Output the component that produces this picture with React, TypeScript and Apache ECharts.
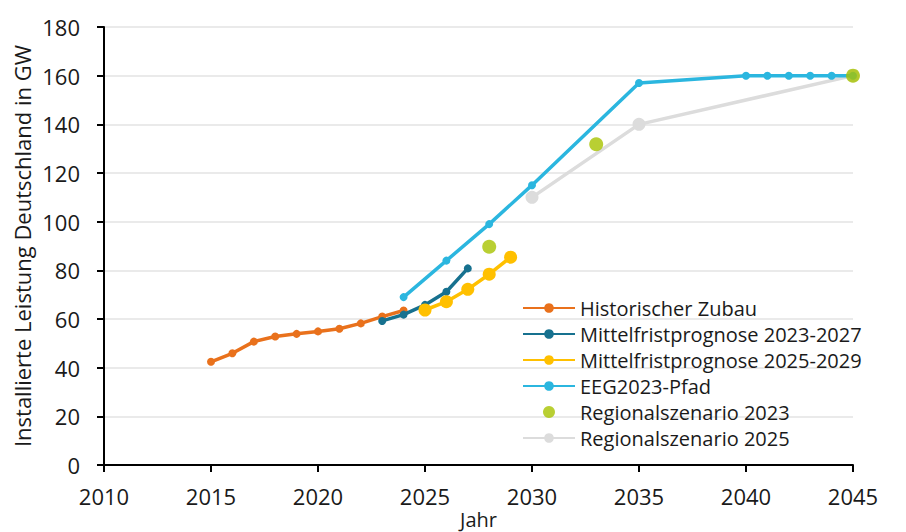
import React, { useEffect, useRef } from "react";
import * as echarts from "echarts";

const historischYears = [2015, 2016, 2017, 2018, 2019, 2020, 2021, 2022, 2023, 2024];
const historischValues = [42.4, 45.9, 50.7, 52.8, 53.9, 54.9, 56.0, 58.2, 61.0, 63.5];

const mf2327Years = [2023, 2024, 2025, 2026, 2027];
const mf2327Values = [59.2, 61.8, 65.8, 71.2, 80.8];

const mf2529Years = [2025, 2026, 2027, 2028, 2029];
const mf2529Values = [63.7, 67.1, 72.2, 78.4, 85.4];

const eegYears = [2024, 2026, 2028, 2030, 2035, 2040, 2041, 2042, 2043, 2044, 2045];
const eegValues = [69, 84, 99, 115, 157, 160, 160, 160, 160, 160, 160];

const reg2023Years = [2028, 2033, 2045];
const reg2023Values = [89.7, 131.8, 160];

const reg2025Years = [2030, 2035, 2045];
const reg2025Values = [110, 140, 160];

const seriesNames = [
  "Historischer Zubau",
  "Mittelfristprognose 2023-2027",
  "Mittelfristprognose 2025-2029",
  "EEG2023-Pfad",
  "Regionalszenario 2023",
  "Regionalszenario 2025",
];

const zip = (xs: number[], ys: number[]) => xs.map((x, i) => [x, ys[i]]);

const FONT = "'Open Sans', sans-serif";
const TEXT = "#1a1a1a";

export default function App() {
  const ref = useRef<HTMLDivElement>(null);
  useEffect(() => {
    if (!ref.current) return;
    const chart = echarts.init(ref.current, undefined, { renderer: "svg" });
    chart.setOption({
      animation: false,
      backgroundColor: "#ffffff",
      textStyle: { fontFamily: FONT },
      grid: { left: 104, right: 53, top: 27, bottom: 67, containLabel: false, outerBoundsMode: "none" },
      legend: {
        orient: "vertical",
        left: 522,
        top: 298,
        padding: 0,
        itemWidth: 52,
        itemHeight: 12,
        itemGap: 6,
        data: seriesNames,
        textStyle: { fontFamily: FONT, fontSize: 20, color: TEXT, lineHeight: 20 },
      },
      xAxis: {
        type: "value",
        min: 2010,
        max: 2045,
        interval: 5,
        name: "Jahr",
        nameLocation: "middle",
        nameGap: 43,
        nameMoveOverlap: false,
        nameTextStyle: { fontFamily: FONT, fontSize: 20, color: TEXT, lineHeight: 22 },
        axisLine: { show: true, lineStyle: { color: "#000", width: 2 } },
        axisTick: { show: true, inside: false, length: 7, lineStyle: { color: "#000", width: 2 } },
        axisLabel: { fontFamily: FONT, fontSize: 22, color: TEXT, margin: 20, formatter: (v: number) => String(v) },
        splitLine: { show: false },
      },
      yAxis: {
        type: "value",
        min: 0,
        max: 180,
        interval: 20,
        name: "Installierte Leistung Deutschland in GW",
        nameLocation: "middle",
        nameGap: 71,
        nameMoveOverlap: false,
        nameTextStyle: { fontFamily: FONT, fontSize: 22, color: TEXT },
        axisLine: { show: true, lineStyle: { color: "#000", width: 2 } },
        axisTick: { show: true, inside: false, length: 7, lineStyle: { color: "#000", width: 2 } },
        axisLabel: { fontFamily: FONT, fontSize: 22, color: TEXT, margin: 24 },
        splitLine: { show: true, lineStyle: { color: "#e3e3e3", width: 1.5 } },
      },
      series: [
        {
          name: seriesNames[5],
          type: "line",
          data: zip(reg2025Years, reg2025Values),
          symbol: "circle",
          symbolSize: 13,
          color: "#dcdcdc",
          lineStyle: { color: "#dcdcdc", width: 3.5 },
          z: 1,
        },
        {
          name: seriesNames[0],
          type: "line",
          data: zip(historischYears, historischValues),
          symbol: "circle",
          symbolSize: 8,
          color: "#e9711c",
          lineStyle: { color: "#e9711c", width: 3.5 },
          z: 2,
        },
        {
          name: seriesNames[1],
          type: "line",
          data: zip(mf2327Years, mf2327Values),
          symbol: "circle",
          symbolSize: 8,
          color: "#17718f",
          lineStyle: { color: "#17718f", width: 3.5 },
          z: 3,
        },
        {
          name: seriesNames[2],
          type: "line",
          data: zip(mf2529Years, mf2529Values),
          symbol: "circle",
          symbolSize: 13,
          color: "#ffc000",
          lineStyle: { color: "#ffc000", width: 3.5 },
          z: 4,
        },
        {
          name: seriesNames[3],
          type: "line",
          data: zip(eegYears, eegValues),
          symbol: "circle",
          symbolSize: 8,
          color: "#2bb6df",
          lineStyle: { color: "#2bb6df", width: 3.5 },
          z: 5,
        },
        {
          name: seriesNames[4],
          type: "scatter",
          data: zip(reg2023Years, reg2023Values),
          symbol: "circle",
          symbolSize: 14,
          color: "#a8c300",
          z: 6,
        },
      ],
    });
    return () => chart.dispose();
  }, []);
  return (
    <div
      ref={ref}
      style={{ position: "fixed", left: 0, top: 0, width: 906, height: 532, background: "#fff" }}
    />
  );
}
